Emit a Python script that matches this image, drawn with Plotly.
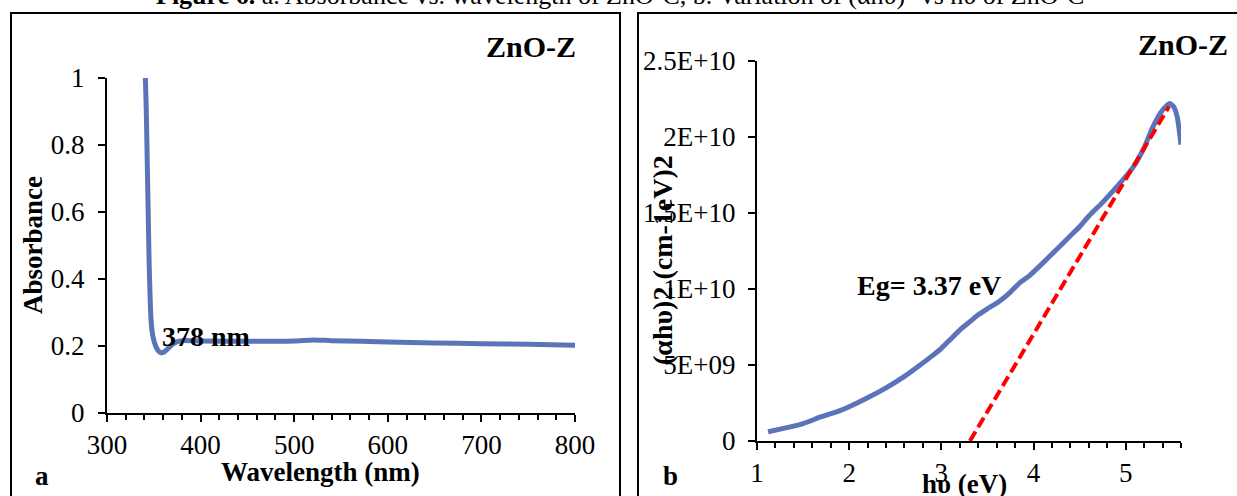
import plotly.graph_objects as go

W, H = 1237, 496

# ---------- data ----------
wavelength_nm = [341, 342, 343, 344, 345, 346, 347, 349, 352, 355, 358, 361, 365, 370, 375, 380,
                 400, 450, 500, 520, 540, 600, 650, 700, 750, 800]
absorbance = [1.0, 0.9, 0.75, 0.6, 0.45, 0.35, 0.28, 0.23, 0.20, 0.185, 0.18, 0.182, 0.192, 0.205,
              0.213, 0.216, 0.215, 0.214, 0.215, 0.218, 0.216, 0.212, 0.209, 0.207, 0.205, 0.202]

photon_energy_ev = [1.12, 1.3, 1.5, 1.7, 1.9, 2.0, 2.2, 2.4, 2.6, 2.77, 2.9, 3.0, 3.1, 3.2, 3.31,
                    3.4, 3.5, 3.63, 3.75, 3.85, 3.96, 4.1, 4.25, 4.4, 4.5, 4.6, 4.75, 4.9, 5.0,
                    5.08, 5.2, 5.29, 5.38, 5.45, 5.48, 5.52, 5.56, 5.6]
ahv_squared = [0.61e9, 0.85e9, 1.15e9, 1.6e9, 2.0e9, 2.26e9, 2.85e9, 3.5e9, 4.25e9, 5.0e9, 5.6e9,
               6.1e9, 6.7e9, 7.3e9, 7.85e9, 8.3e9, 8.7e9, 9.2e9, 9.8e9, 10.4e9, 10.9e9, 11.7e9,
               12.6e9, 13.5e9, 14.1e9, 14.8e9, 15.7e9, 16.7e9, 17.4e9, 18.0e9, 19.3e9, 20.6e9,
               21.6e9, 22.1e9, 22.2e9, 22.0e9, 21.3e9, 19.5e9]

fit_x = [3.31, 5.47]
fit_y = [0.0, 2.2e10]

left_ytick_vals = [0, 0.2, 0.4, 0.6, 0.8, 1]
left_ytick_text = ["0", "0.2", "0.4", "0.6", "0.8", "1"]
right_ytick_vals = [0, 5e9, 1e10, 1.5e10, 2e10, 2.5e10]
right_ytick_text = ["0", "5E+09", "1E+10", "1.5E+10", "2E+10", "2.5E+10"]

# ---------- helpers for layout (pixel -> paper) ----------
def px(x):
    return x / W

def py(y):
    return (H - y) / H

FONT = "Liberation Serif"
BLUE = "rgb(91,115,184)"

fig = go.Figure()
fig.add_trace(go.Scatter(x=wavelength_nm, y=absorbance, mode="lines",
                         line=dict(color=BLUE, width=5, shape="spline", smoothing=0.6),
                         xaxis="x", yaxis="y", showlegend=False))
fig.add_trace(go.Scatter(x=photon_energy_ev, y=ahv_squared, mode="lines",
                         line=dict(color=BLUE, width=5, shape="spline", smoothing=0.5),
                         xaxis="x2", yaxis="y2", showlegend=False))
fig.add_trace(go.Scatter(x=fit_x, y=fit_y, mode="lines",
                         line=dict(color="red", width=4, dash="11px,5px"),
                         xaxis="x2", yaxis="y2", showlegend=False))

axis_common = dict(showgrid=False, zeroline=False, showline=True, linecolor="black",
                   linewidth=2, ticks="outside", tickcolor="black", tickwidth=2, ticklen=7,
                   automargin=False,
                   tickfont=dict(family=FONT, size=27, color="black"))

fig.update_layout(
    width=W, height=H, autosize=False,
    margin=dict(l=0, r=0, t=0, b=0, pad=0),
    paper_bgcolor="white", plot_bgcolor="white",
    xaxis=dict(domain=[px(107), px(575)], range=[300, 800], anchor="y",
               tickvals=[300, 400, 500, 600, 700, 800],
               minor=dict(dtick=20, ticks="outside", ticklen=5, tickcolor="black", tickwidth=2),
               **axis_common),
    yaxis=dict(domain=[py(413), py(78)], range=[0, 1], anchor="x",
               tickvals=left_ytick_vals, ticktext=left_ytick_text, ticklabelstandoff=8,
               **axis_common),
    xaxis2=dict(domain=[px(757), px(1181)], range=[1, 5.6], anchor="y2",
                tickvals=[1, 2, 3, 4, 5],
                minor=dict(dtick=0.2, ticks="outside", ticklen=5, tickcolor="black", tickwidth=2),
                **axis_common),
    yaxis2=dict(domain=[py(441), py(61)], range=[0, 2.5e10], anchor="x2",
                tickvals=right_ytick_vals, ticktext=right_ytick_text, ticklabelstandoff=7,
                **axis_common),
    shapes=[
        dict(type="rect", xref="paper", yref="paper", x0=px(11), x1=px(620), y0=-0.1, y1=py(13),
             line=dict(color="black", width=2), fillcolor="rgba(0,0,0,0)", layer="below"),
        dict(type="rect", xref="paper", yref="paper", x0=px(638), x1=1.1, y0=-0.1, y1=py(13),
             line=dict(color="black", width=2), fillcolor="rgba(0,0,0,0)", layer="below"),
    ],
)

def ann(text, x, y, size=27, bold=True, angle=0, xanchor="center", yanchor="middle"):
    t = f"<b>{text}</b>" if bold else text
    fig.add_annotation(text=t, x=px(x), y=py(y), xref="paper", yref="paper", showarrow=False,
                       textangle=angle, xanchor=xanchor, yanchor=yanchor,
                       font=dict(family=FONT, size=size, color="black"))

ann("<b>Figure 6.</b> a. Absorbance vs. wavelength of ZnO-C, b. Variation of (αhυ)<sup>2</sup> vs hυ of ZnO-C",
    620, -6, size=26, bold=False)
ann("ZnO-Z", 531, 47, size=30)
ann("ZnO-Z", 1183, 45, size=30)
ann("378 nm", 160, 336, size=28, xanchor="left")
ann("Eg= 3.37 eV", 855, 285, size=28, xanchor="left")
ann("Absorbance", 33, 245, angle=-90)
ann("Wavelength (nm)", 320, 472)
ann("a", 42, 476)
ann("b", 670, 476)
ann("(αhυ)2 (cm-1eV)2", 662, 260, size=28, angle=-90)
ann("hυ (eV)", 964, 484)

fig.write_html("out.html")
